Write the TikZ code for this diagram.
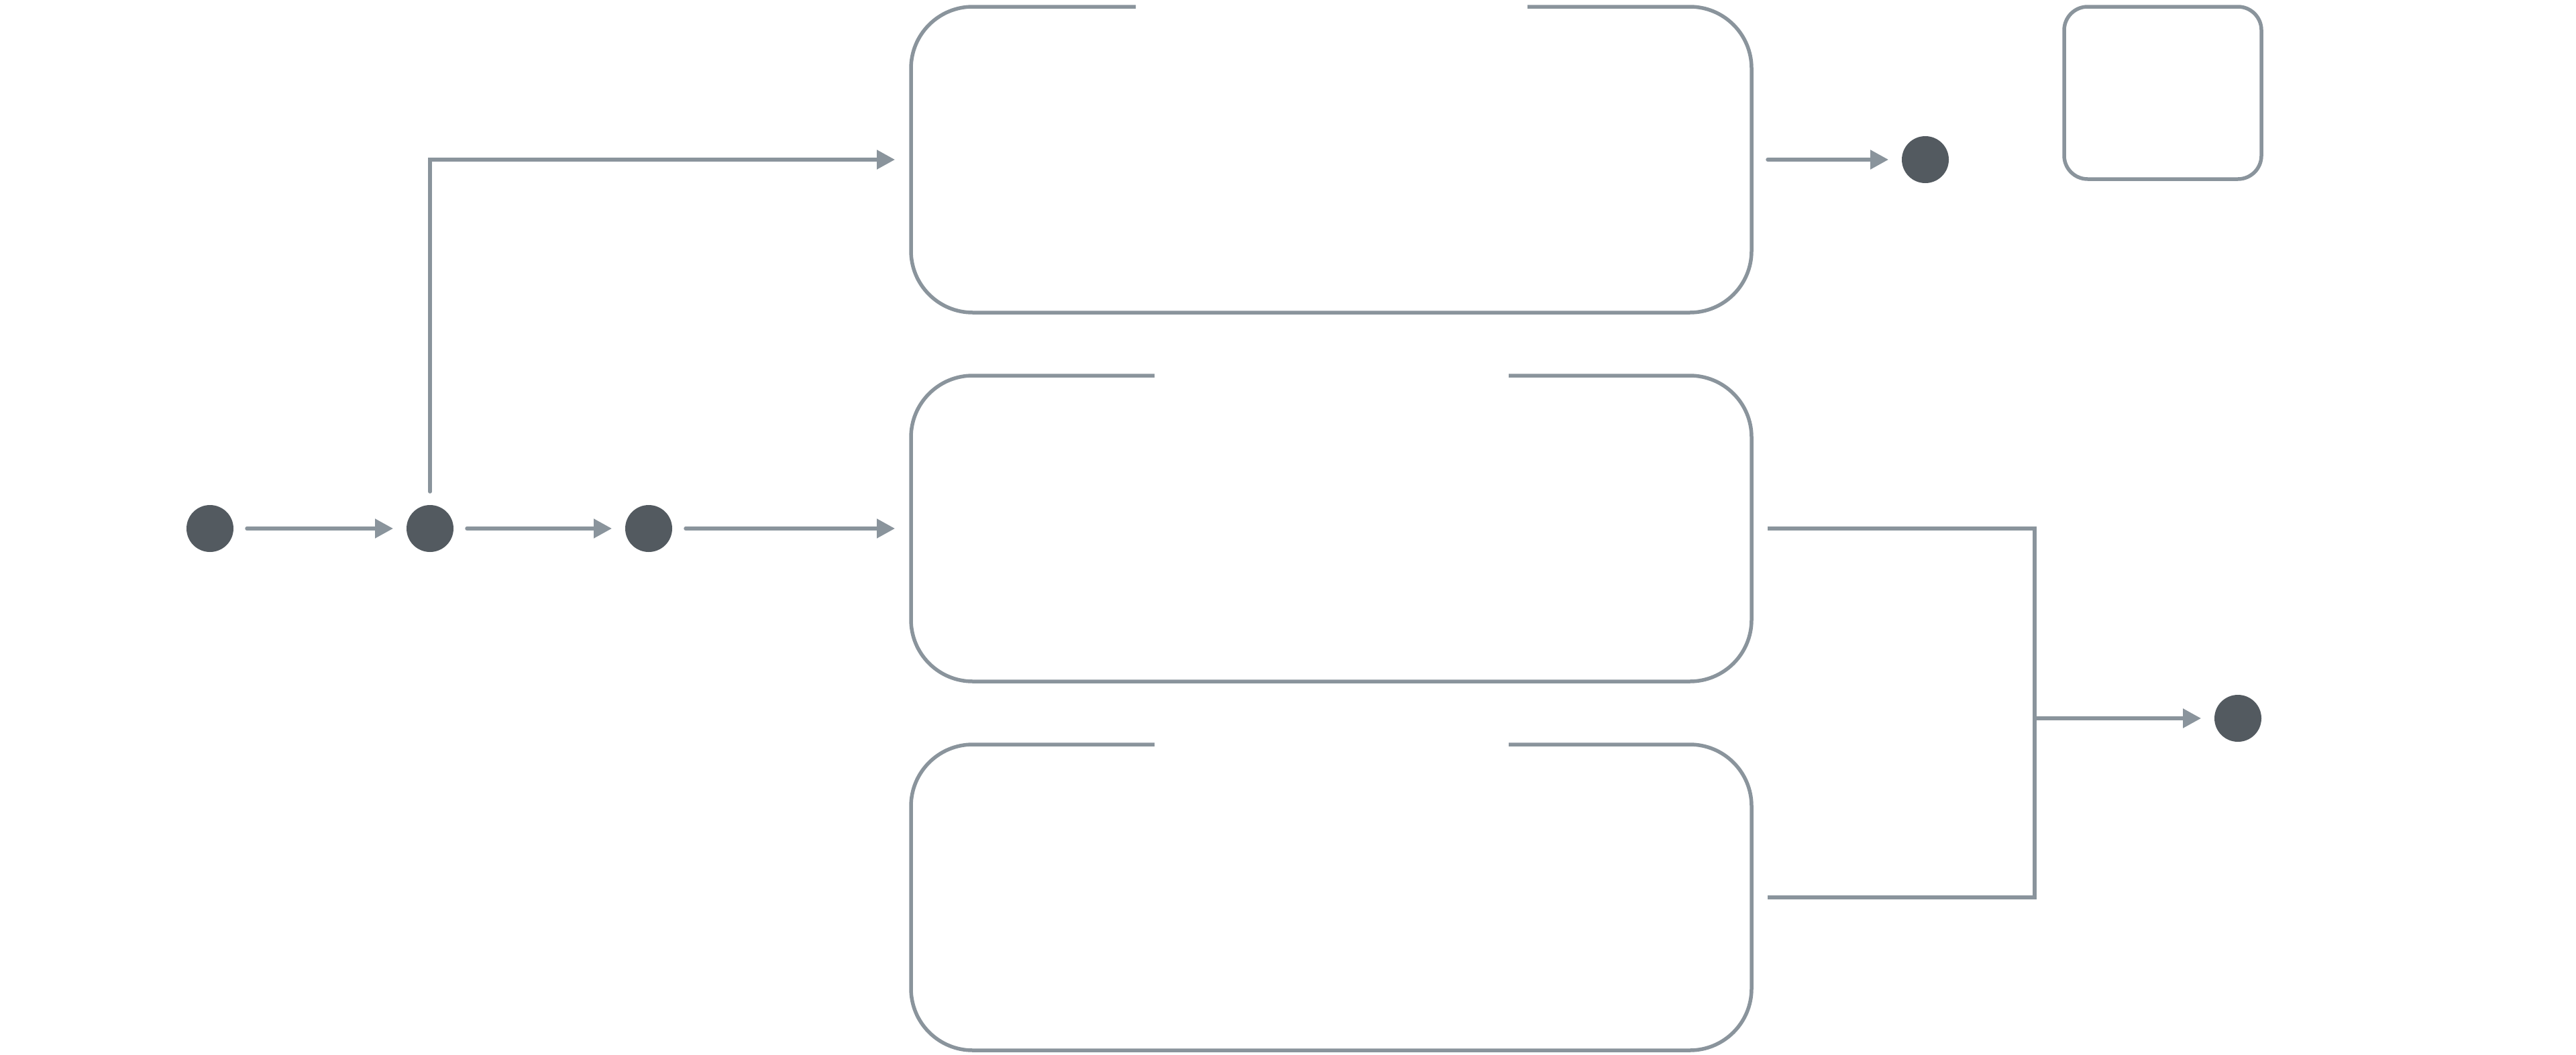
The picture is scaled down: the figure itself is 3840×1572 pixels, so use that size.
\documentclass[tikz,border=0pt]{standalone}
\usetikzlibrary{arrows.meta}
\definecolor{lineg}{HTML}{8A949C}
\definecolor{dotg}{HTML}{535A60}
\tikzset{
  dotnode/.style={circle,fill=dotg,draw=none,minimum size=70pt,inner sep=0pt,outer sep=20pt},
  areanode/.style={rectangle,draw=none,inner sep=0pt,outer sep=0pt,minimum width=1253pt,minimum height=456pt},
  boxline/.style={draw=lineg,line width=5.5pt,rounded corners=92pt},
  conn/.style={draw=lineg,line width=5.5pt,line cap=round,-{Triangle[length=27pt,width=28pt]}},
  plain/.style={draw=lineg,line width=5.5pt,line cap=round},
  smallbox/.style={rectangle,draw=lineg,line width=5.5pt,rounded corners=35pt,minimum width=294pt,minimum height=257pt,inner sep=0pt}
}
\begin{document}
\begin{tikzpicture}[x=1pt,y=-1pt]
\useasboundingbox (0,0) rectangle (3840,1572);
% state areas
\node[areanode] (b1) at (1984.5,238) {};
\node[areanode] (b2) at (1984.5,788) {};
\node[areanode] (b3) at (1984.5,1338) {};
\draw[boxline] ([xshift=-291.5pt]b1.north) -| (b1.south west) -| (b1.north east) -- ([xshift=292.5pt]b1.north);
\draw[boxline] ([xshift=-263.5pt]b2.north) -| (b2.south west) -| (b2.north east) -- ([xshift=264.5pt]b2.north);
\draw[boxline] ([xshift=-263.5pt]b3.north) -| (b3.south west) -| (b3.north east) -- ([xshift=264.5pt]b3.north);
\node[smallbox] (sb) at (3224,138.5) {};
% dots
\node[dotnode] (d1) at (313,788) {};
\node[dotnode] (d2) at (641,788) {};
\node[dotnode] (d3) at (967,788) {};
\node[dotnode] (d4) at (2870,238) {};
\node[dotnode] (d5) at (3336,1071) {};
\coordinate (j) at (3033,1071);
% connectors
\draw[conn] (d1) -- (d2);
\draw[conn] (d2) -- (d3);
\draw[conn,shorten >=24pt] (d3) -- (b2);
\draw[conn,shorten >=24pt] (d2.north) |- (b1.west);
\draw[conn,shorten <=24pt] (b1.east) -- (d4);
\draw[plain,line cap=butt,shorten <=24pt] (b2.east) -| (j);
\draw[plain,line cap=butt,shorten >=24pt] (j) |- (b3.east);
\draw[conn,line cap=butt] (j) -- (d5);
\end{tikzpicture}
\end{document}
